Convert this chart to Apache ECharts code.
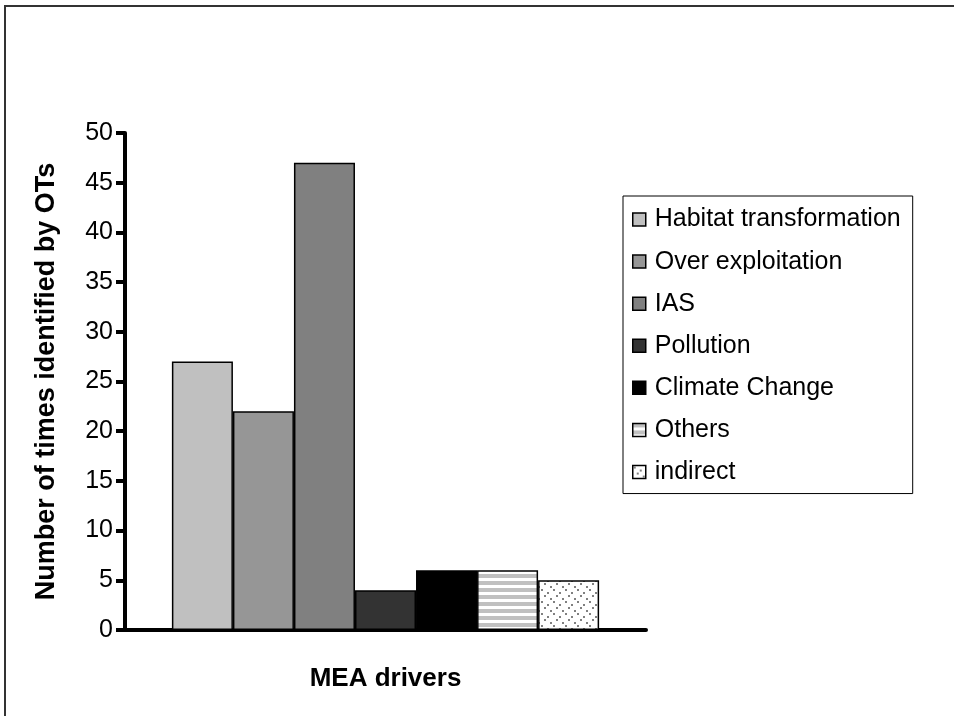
<!DOCTYPE html>
<html>
<head>
    <title>MEA drivers</title>
    <script src="https://cdn.jsdelivr.net/npm/echarts@6/dist/echarts.min.js"></script>
    <style>
        html, body { margin: 0; padding: 0; background: #fff; }
    </style>
</head>
<body>
    <div id="chart" style="width: 954px; height: 716px;"></div>
    <script>
        // data
        var drivers = ['Habitat transformation', 'Over exploitation', 'IAS', 'Pollution', 'Climate Change', 'Others', 'indirect'];
        var counts = [27, 22, 47, 4, 6, 6, 5];
        var fills = ['#c0c0c0', '#969696', '#808080', '#333333', '#000000', 'stripes', 'dots'];

        // small canvas tiles for the two hatched bars
        function stripeTile() {
            var c = document.createElement('canvas');
            c.width = 8; c.height = 7;
            var g = c.getContext('2d');
            g.fillStyle = '#fff'; g.fillRect(0, 0, 8, 7);
            g.fillStyle = '#c0c0c0'; g.fillRect(0, 0, 8, 4);
            return c;
        }
        function dotTile() {
            var c = document.createElement('canvas');
            c.width = 12; c.height = 12;
            var g = c.getContext('2d');
            g.fillStyle = '#fff'; g.fillRect(0, 0, 12, 12);
            g.fillStyle = '#808080';
            g.fillRect(1, 1, 2, 2);
            g.fillRect(7, 4, 2, 2);
            g.fillRect(4, 7, 2, 2);
            g.fillRect(10, 10, 2, 2);
            return c;
        }
        function fillFor(f) {
            if (f === 'stripes') return { image: stripeTile(), repeat: 'repeat' };
            if (f === 'dots') return { image: dotTile(), repeat: 'repeat' };
            return f;
        }

        var font = 'Liberation Sans, Arial, sans-serif';
        var chart = echarts.init(document.querySelector("#chart"));

        var series = drivers.map(function (name, i) {
            return {
                name: name,
                type: 'bar',
                data: [counts[i]],
                barGap: 0,
                barCategoryGap: '18%',
                itemStyle: { color: fillFor(fills[i]), borderColor: '#000', borderWidth: 1.5 }
            };
        });

        var option = {
            animation: false,
            backgroundColor: '#fff',
            graphic: [{
                type: 'rect',
                shape: { x: 5, y: 6, width: 1000, height: 800 },
                style: { fill: 'none', stroke: '#333', lineWidth: 2 }
            }],
            grid: { left: 125, right: 308, top: 133, bottom: 86 },
            legend: {
                orient: 'vertical',
                left: 623,
                top: 196,
                padding: [2, 12, 0, 9],
                borderColor: '#000',
                borderWidth: 1,
                itemWidth: 13,
                itemHeight: 13,
                itemGap: -1,
                icon: 'rect',
                itemStyle: { borderColor: '#000', borderWidth: 1.5 },
                textStyle: { fontFamily: font, fontSize: 25, color: '#000', padding: [0, 0, 0, 4] },
                data: drivers
            },
            xAxis: {
                type: 'category',
                data: [''],
                name: 'MEA drivers',
                nameLocation: 'middle',
                nameGap: 26,
                nameTextStyle: { fontFamily: font, fontSize: 26, fontWeight: 'bold', color: '#000' },
                axisLine: { lineStyle: { color: '#000', width: 4 } },
                axisTick: { show: false },
                axisLabel: { show: false }
            },
            yAxis: {
                type: 'value',
                min: 0,
                max: 50,
                interval: 5,
                name: 'Number of times identified by OTs',
                nameLocation: 'middle',
                nameGap: 55,
                nameTextStyle: { fontFamily: font, fontSize: 27, fontWeight: 'bold', color: '#000' },
                axisLine: { show: true, lineStyle: { color: '#000', width: 4 } },
                axisTick: { show: true, length: 9, lineStyle: { color: '#000', width: 4 } },
                axisLabel: { fontFamily: font, fontSize: 25, color: '#000', margin: 12 },
                splitLine: { show: false }
            },
            series: series
        };
        chart.setOption(option);
    </script>
</body>
</html>
